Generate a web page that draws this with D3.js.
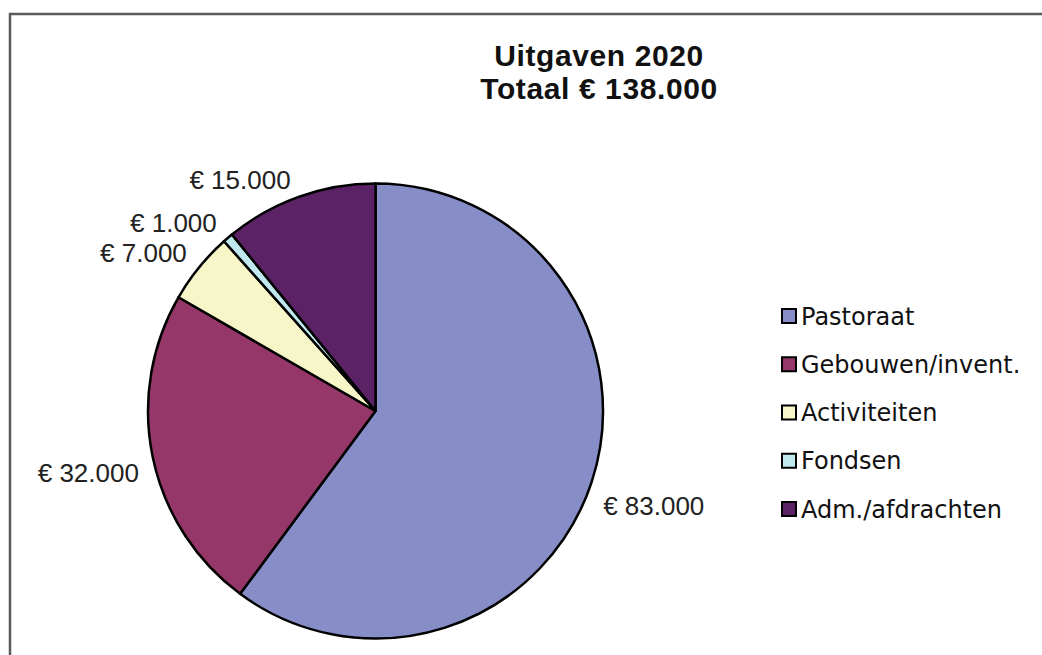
<!DOCTYPE html>
<html>
<head>
<meta charset="utf-8">
<script src="https://cdn.jsdelivr.net/npm/d3@7"></script>
<style>
  html, body { margin: 0; padding: 0; background: #fff; }
  svg { display: block; }
</style>
</head>
<body>
<svg id="chart" width="1042" height="655"></svg>
<script>
// ---- data ----
const categories = ["Pastoraat", "Gebouwen/invent.", "Activiteiten", "Fondsen", "Adm./afdrachten"];
const values = [83000, 32000, 7000, 1000, 15000];
const valueLabels = ["€ 83.000", "€ 32.000", "€ 7.000", "€ 1.000", "€ 15.000"];
const titleLines = ["Uitgaven 2020", "Totaal € 138.000"];
const colors = ["#878dc7", "#953768", "#f6f6c9", "#bfe9ee", "#5c2266"];

// ---- layout ----
const W = 1042, H = 655;
const cx = 375.5, cy = 411, R = 227.5;
const svg = d3.select("#chart");

// outer frame
svg.append("rect")
  .attr("x", 10).attr("y", 14)
  .attr("width", W + 40).attr("height", H + 40)
  .attr("fill", "#fff").attr("stroke", "#5a5a5a").attr("stroke-width", 2.5);

// title
titleLines.forEach((t, i) => {
  svg.append("text")
    .attr("x", 599).attr("y", 66 + i * 33)
    .attr("text-anchor", "middle")
    .attr("font-family", "'Liberation Sans', Arial, sans-serif")
    .attr("font-weight", "bold").attr("font-size", 30)
    .attr("letter-spacing", 0.6).attr("fill", "#111")
    .text(t);
});

// pie
const data = categories.map((c, i) => ({ cat: c, value: values[i], label: valueLabels[i], color: colors[i] }));
const pie = d3.pie().sort(null).value(d => d.value).startAngle(0).endAngle(2 * Math.PI);
const arcs = pie(data);
const arc = d3.arc().innerRadius(0).outerRadius(R);

const g = svg.append("g").attr("transform", `translate(${cx},${cy})`);
g.selectAll("path.slice").data(arcs).join("path")
  .attr("class", "slice")
  .attr("d", arc)
  .attr("fill", d => d.data.color)
  .attr("stroke", "#000").attr("stroke-width", 2.5).attr("stroke-linejoin", "round");

// value labels (placed just outside the rim along each slice's mid-angle)
const labelR = R + 8;
const capH = 19;
const padBelow = 12;
g.selectAll("text.val").data(arcs).join("text")
  .attr("class", "val")
  .each(function(d) {
    const a = (d.startAngle + d.endAngle) / 2;
    const s = Math.sin(a), c = Math.cos(a);
    const px = s * labelR, py = -c * labelR;
    const k = Math.max(-1, Math.min(1, c * 3));
    const half = capH / 2 + (c < 0 ? padBelow : 0);
    const centerY = py - k * half;
    d3.select(this)
      .attr("x", px + (s >= 0 ? 4 : -6))
      .attr("y", centerY + capH / 2)
      .attr("text-anchor", s >= 0 ? "start" : "end");
  })
  .attr("font-family", "'Liberation Sans', Arial, sans-serif")
  .attr("font-size", 26).attr("fill", "#222")
  .text(d => d.data.label);

// legend
const ly = d3.scalePoint().domain(categories).range([316, 509]);
const leg = svg.append("g");
const rows = leg.selectAll("g").data(data).join("g")
  .attr("transform", d => `translate(0,${ly(d.cat)})`);
rows.append("rect")
  .attr("x", 782).attr("y", -7).attr("width", 14).attr("height", 14)
  .attr("fill", d => d.color).attr("stroke", "#000").attr("stroke-width", 2);
rows.append("text")
  .attr("x", 801).attr("y", 8.5)
  .attr("font-family", "'DejaVu Sans', Verdana, sans-serif")
  .attr("font-size", 24).attr("fill", "#111")
  .text(d => d.cat);
</script>
</body>
</html>
